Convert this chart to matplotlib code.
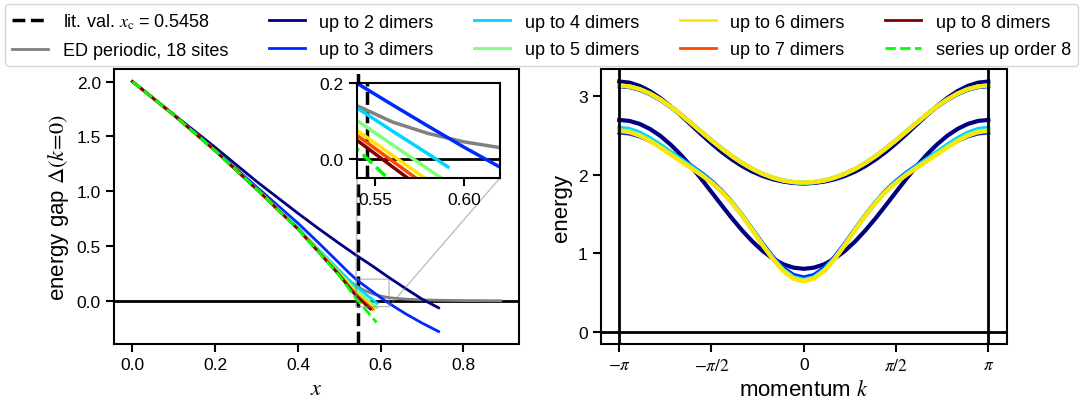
import numpy as np
import matplotlib
matplotlib.use('Agg')
import matplotlib.pyplot as plt

plt.rcParams['font.family'] = ['Liberation Sans', 'DejaVu Sans']
plt.rcParams['mathtext.fontset'] = 'stix'
plt.rcParams['font.size'] = 12.5
plt.rcParams['axes.linewidth'] = 1.5
plt.rcParams['xtick.major.width'] = 1.5
plt.rcParams['ytick.major.width'] = 1.5
plt.rcParams['xtick.major.size'] = 6
plt.rcParams['ytick.major.size'] = 6

# ---------------- gap at k=0 versus x ----------------
X_C = 0.5458

x_ed   = [0, 0.1, 0.2, 0.3, 0.4, 0.45, 0.5, 0.52, 0.54, 0.56, 0.58, 0.6, 0.62, 0.66, 0.7, 0.75, 0.8, 0.89]
gap_ed = [2.0, 1.695, 1.37, 1.02, 0.66, 0.45, 0.25, 0.19, 0.141, 0.098, 0.068, 0.046, 0.031, 0.018, 0.011, 0.007, 0.005, 0.003]

x_d2   = [0, 0.1, 0.2, 0.3, 0.4, 0.45, 0.5, 0.54, 0.58, 0.62, 0.66, 0.7, 0.74]
gap_d2 = [2.0, 1.70, 1.40, 1.09, 0.80, 0.66, 0.525, 0.42, 0.32, 0.215, 0.115, 0.018, -0.061]

x_d3   = [0, 0.1, 0.2, 0.3, 0.4, 0.45, 0.5, 0.52, 0.54, 0.56, 0.58, 0.6, 0.62, 0.66, 0.7, 0.74]
gap_d3 = [2.0, 1.695, 1.375, 1.04, 0.71, 0.53, 0.345, 0.27, 0.2, 0.143, 0.087, 0.032, -0.02, -0.115, -0.2, -0.277]

x_d4   = [0, 0.1, 0.2, 0.3, 0.4, 0.45, 0.5, 0.52, 0.54, 0.56, 0.58, 0.591]
gap_d4 = [2.0, 1.695, 1.37, 1.025, 0.67, 0.47, 0.28, 0.205, 0.135, 0.074, 0.014, -0.02]

x_d5   = [0, 0.1, 0.2, 0.3, 0.4, 0.45, 0.5, 0.52, 0.54, 0.56, 0.58, 0.59]
gap_d5 = [2.0, 1.695, 1.37, 1.022, 0.665, 0.46, 0.26, 0.18, 0.102, 0.038, -0.026, -0.058]

x_d6   = [0, 0.1, 0.2, 0.3, 0.4, 0.45, 0.5, 0.52, 0.54, 0.56, 0.58, 0.585]
gap_d6 = [2.0, 1.695, 1.37, 1.021, 0.66, 0.455, 0.25, 0.16, 0.076, 0.01, -0.056, -0.072]

x_d7   = [0, 0.1, 0.2, 0.3, 0.4, 0.45, 0.5, 0.52, 0.54, 0.56, 0.58]
gap_d7 = [2.0, 1.695, 1.37, 1.02, 0.658, 0.45, 0.243, 0.15, 0.063, -0.005, -0.073]

x_d8   = [0, 0.1, 0.2, 0.3, 0.4, 0.45, 0.5, 0.52, 0.54, 0.56, 0.575]
gap_d8 = [2.0, 1.695, 1.37, 1.02, 0.656, 0.447, 0.238, 0.142, 0.05, -0.02, -0.072]

x_ser   = [0, 0.1, 0.2, 0.3, 0.4, 0.45, 0.5, 0.52, 0.54, 0.56, 0.58, 0.59]
gap_ser = [2.0, 1.695, 1.37, 1.02, 0.655, 0.445, 0.232, 0.13, 0.027, -0.062, -0.15, -0.195]

dimer_labels = ['up to %d dimers' % n for n in range(2, 9)]
dimer_x   = [x_d2, x_d3, x_d4, x_d5, x_d6, x_d7, x_d8]
dimer_gap = [gap_d2, gap_d3, gap_d4, gap_d5, gap_d6, gap_d7, gap_d8]

# ---------------- dispersion on k = 0..pi in 10 degree steps (symmetric in k) ----------------
k_half = np.deg2rad(np.arange(0, 181, 10))

band_up = [
    # 2 dimers
    [1.890, 1.896, 1.913, 1.942, 1.984, 2.040, 2.110, 2.194, 2.291, 2.400,
     2.517, 2.639, 2.760, 2.876, 2.980, 3.068, 3.134, 3.176, 3.190],
    # 3 dimers
    [1.890, 1.897, 1.919, 1.956, 2.006, 2.070, 2.148, 2.236, 2.335, 2.440,
     2.550, 2.660, 2.768, 2.867, 2.956, 3.029, 3.084, 3.119, 3.130],
    # 4 dimers
    [1.900, 1.907, 1.928, 1.963, 2.012, 2.075, 2.150, 2.237, 2.335, 2.440,
     2.550, 2.661, 2.770, 2.872, 2.962, 3.037, 3.093, 3.128, 3.140],
    # 5 dimers
    [1.900, 1.907, 1.928, 1.963, 2.012, 2.075, 2.150, 2.237, 2.335, 2.440,
     2.550, 2.661, 2.770, 2.872, 2.962, 3.037, 3.093, 3.128, 3.140],
    # 6 dimers
    [1.900, 1.907, 1.928, 1.963, 2.012, 2.075, 2.150, 2.237, 2.335, 2.440,
     2.550, 2.661, 2.770, 2.872, 2.962, 3.037, 3.093, 3.128, 3.140],
]
band_low = [
    [0.800, 0.815, 0.858, 0.930, 1.027, 1.148, 1.289, 1.444, 1.610, 1.780,
     1.948, 2.109, 2.257, 2.387, 2.498, 2.585, 2.649, 2.687, 2.700],
    [0.690, 0.721, 0.812, 0.950, 1.120, 1.304, 1.485, 1.651, 1.797, 1.920,
     2.025, 2.117, 2.203, 2.284, 2.362, 2.433, 2.490, 2.527, 2.540],
    [0.660, 0.693, 0.788, 0.932, 1.108, 1.296, 1.480, 1.646, 1.789, 1.910,
     2.014, 2.109, 2.200, 2.292, 2.384, 2.468, 2.538, 2.584, 2.600],
    [0.650, 0.684, 0.780, 0.926, 1.103, 1.293, 1.477, 1.642, 1.783, 1.900,
     2.000, 2.091, 2.179, 2.268, 2.356, 2.439, 2.508, 2.554, 2.570],
    [0.640, 0.674, 0.772, 0.920, 1.100, 1.292, 1.477, 1.643, 1.784, 1.900,
     1.998, 2.087, 2.173, 2.260, 2.348, 2.430, 2.499, 2.544, 2.560],
]

colors = plt.cm.jet(np.linspace(0, 1, 7))

fig = plt.figure(figsize=(10.83, 4.06), dpi=100)
ax1 = fig.add_axes([0.1053, 0.1502, 0.374, 0.6773])
ax2 = fig.add_axes([0.5547, 0.1502, 0.3749, 0.6773])

# left panel
ax1.axhline(0, color='k', lw=2, zorder=1)
ax1.axvline(X_C, color='k', ls='--', lw=2.5, label=r'lit. val. $x_\mathrm{c}$ = 0.5458')
ax1.plot(x_ed, gap_ed, color='gray', lw=2, label='ED periodic, 18 sites')
for xs, gs, c, lab in zip(dimer_x, dimer_gap, colors, dimer_labels):
    ax1.plot(xs, gs, color=c, lw=2, label=lab)
ax1.plot(x_ser, gap_ser, color='lime', ls='--', lw=2, label='series up order 8')
ax1.set_xlabel(r'$x$', fontsize=16)
ax1.set_ylabel(r'energy gap $\Delta(k\!=\!0)$', fontsize=16)
ax1.set_xticks([0, 0.2, 0.4, 0.6, 0.8])
ax1.set_yticks([0, 0.5, 1.0, 1.5, 2.0])

# zoom onto the critical region
axins = ax1.inset_axes([0.600, 0.6025, 0.352, 0.3455])
axins.axhline(0, color='k', lw=2, zorder=1)
axins.axvline(X_C, color='k', ls='--', lw=2.5)
axins.plot(x_ed, gap_ed, color='gray', lw=2.5)
for xs, gs, c in zip(dimer_x, dimer_gap, colors):
    axins.plot(xs, gs, color=c, lw=2.5)
axins.plot(x_ser, gap_ser, color='lime', ls='--', lw=2.5)
axins.set_xlim(0.54, 0.62)
axins.set_ylim(-0.05, 0.2)
axins.set_xticks([0.55, 0.60])
axins.set_yticks([0.0, 0.2])
ax1.indicate_inset_zoom(axins)

# right panel: dispersion
k_full = np.concatenate([-k_half[:0:-1], k_half])
for i in range(len(band_up)):
    for band in (band_up[i], band_low[i]):
        e = np.asarray(band)
        ax2.plot(k_full, np.concatenate([e[:0:-1], e]), color=colors[i], lw=3)
ax2.axhline(0, color='k', lw=2)
ax2.axvline(-np.pi, color='k', lw=2)
ax2.axvline(np.pi, color='k', lw=2)
ax2.set_xticks([-np.pi, -np.pi / 2, 0, np.pi / 2, np.pi])
ax2.set_xticklabels([r'$-\pi$', r'$-\pi/2$', '0', r'$\pi/2$', r'$\pi$'])
ax2.set_yticks([0, 1, 2, 3])
ax2.set_xlabel(r'momentum $k$', fontsize=16)
ax2.set_ylabel('energy', fontsize=16)

handles, labels = ax1.get_legend_handles_labels()
fig.legend(handles, labels, loc='upper center', ncol=5, bbox_to_anchor=(0.5, 1.0),
           fontsize=13, handlelength=2.0, columnspacing=2.25, labelspacing=0.6,
           borderaxespad=0.3)

fig.savefig('out.png', dpi=100)
